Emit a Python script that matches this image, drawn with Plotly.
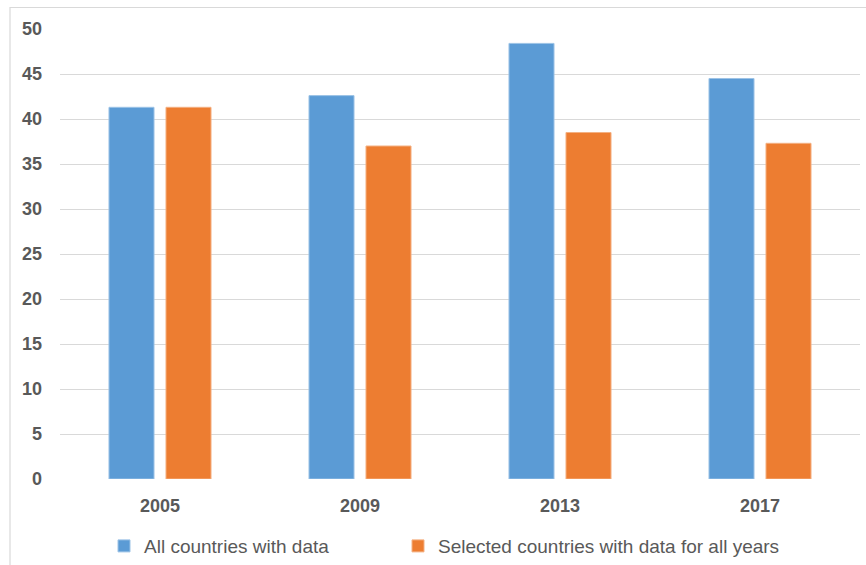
import plotly.graph_objects as go

years = ["2005", "2009", "2013", "2017"]
all_countries = [41.3, 42.6, 48.4, 44.5]
selected_countries = [41.3, 37.0, 38.5, 37.3]
series_names = ["All countries with data", "Selected countries with data for all years"]
y_ticks = [0, 5, 10, 15, 20, 25, 30, 35, 40, 45, 50]

BLUE = "#5B9BD5"
ORANGE = "#ED7D31"
TEXT = "#595959"
GRID = "#D9D9D9"
FONT = "Liberation Sans, Arial, sans-serif"

fig = go.Figure()
fig.add_trace(go.Bar(x=years, y=all_countries, name=series_names[0], legend="legend",
                     marker=dict(color=BLUE, line=dict(color="#9DC3E6", width=1))))
fig.add_trace(go.Bar(x=years, y=selected_countries, name=series_names[1], legend="legend2",
                     marker=dict(color=ORANGE, line=dict(color="#F4B183", width=1))))

legend_common = dict(orientation="h", xanchor="left", y=-0.149, yanchor="middle",
                     font=dict(size=19, color=TEXT, family=FONT), itemwidth=30,
                     bgcolor="rgba(0,0,0,0)")

fig.update_layout(
    width=866, height=565,
    margin=dict(l=60, r=6, t=29, b=86, autoexpand=False),
    paper_bgcolor="white", plot_bgcolor="white",
    barmode="group", bargap=0.43, bargroupgap=0.21,
    font=dict(family=FONT, color=TEXT),
    showlegend=True,
    legend=dict(x=0.055, **legend_common),
    legend2=dict(x=0.4225, **legend_common),
    shapes=[dict(type="rect", xref="paper", yref="paper", x0=-0.0625, x1=1.02,
                 y0=-0.3, y1=1.0478, line=dict(color=GRID, width=1.2), layer="below")],
)
fig.update_xaxes(showgrid=False, showline=False, ticks="",
                 tickfont=dict(size=18, color=TEXT, family=FONT, weight="bold"),
                 ticklabelstandoff=14)
fig.update_yaxes(range=[0, 50], tickvals=y_ticks, showgrid=True, gridcolor=GRID, gridwidth=1.3,
                 zeroline=False, showline=False, ticks="",
                 tickfont=dict(size=18, color=TEXT, family=FONT, weight="bold"),
                 ticklabelstandoff=17)

fig.write_html("out.html")
